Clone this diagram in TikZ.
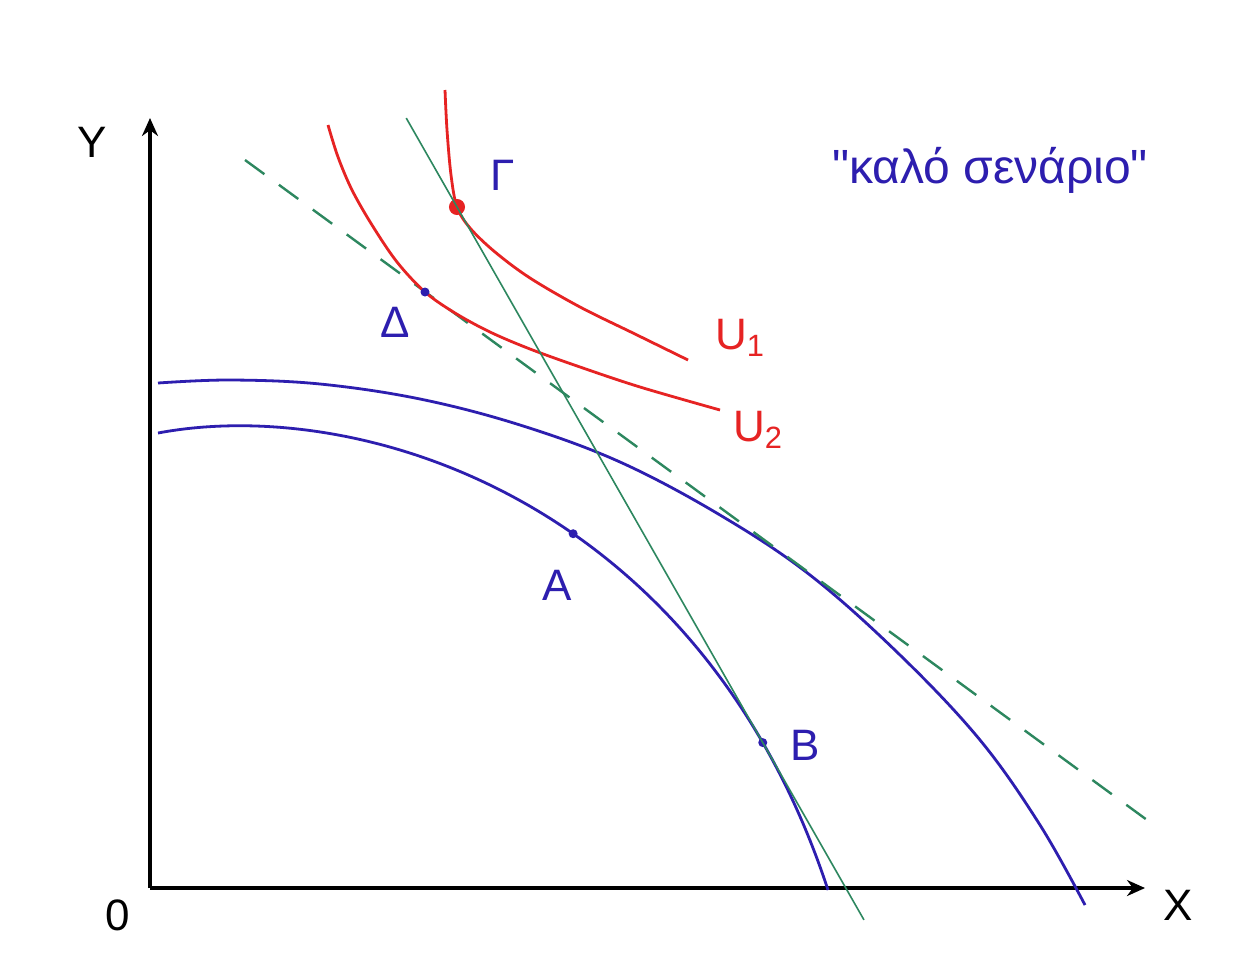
\documentclass[tikz,border=0pt]{standalone}
\usepackage{fontspec}
\setmainfont{Liberation Sans}[Ligatures=TeXOff]
\usetikzlibrary{arrows.meta,calc}
\definecolor{pblue}{RGB}{45,30,175}
\definecolor{pred}{RGB}{230,35,35}
\definecolor{pgreen}{RGB}{45,135,95}
\tikzset{
  axis/.style={line width=1.6pt,black,-{Stealth[length=9pt,width=8pt]}},
  ppf/.style={line width=1.4pt,pblue},
  indiff/.style={line width=1.4pt,pred},
  budget/.style={line width=0.8pt,pgreen},
  tangent/.style={line width=1.2pt,pgreen,dash pattern=on 12pt off 9pt},
  lbl/.style={font=\fontsize{22}{26}\selectfont},
  dotb/.style={circle,fill=pblue,inner sep=0pt,minimum size=4.5pt},
}
\begin{document}
\begin{tikzpicture}[x=0.5pt,y=-0.5pt]
\useasboundingbox (0,0) rectangle (1234,964);
\fill[white] (0,0) rectangle (1234,964);
% axes
\coordinate (O) at (150,888);
\coordinate (ytop) at (150,118);
\coordinate (xend) at (1145,888);
\draw[axis] (O) -- (ytop);
\draw[axis] (O) -- (xend);
\node[lbl] (ylab) at (92,142) {Y};
\node[lbl] (xlab) at (1178,905) {X};
\node[lbl] (olab) at (118,915) {0};
% outer PPF
\draw[ppf] plot[smooth,tension=0.6] coordinates {(158,383) (230,380) (320,384) (420,399) (520,425) (620,462) (720,515) (810,575) (900,655) (980,740) (1040,825) (1085,905)};
% inner PPF
\coordinate (p0) at (158,433);
\coordinate (p3) at (828,890);
\draw[ppf] (p0) .. controls (360,395) and (700,500) .. (p3)
  node[dotb,pos=0.57] (A) {}
  node[dotb,pos=0.86] (B) {};
% tangent dashed line
\coordinate (d1) at (245,160);
\coordinate (d2) at (1158,828);
\draw[tangent] (d1) -- (d2);
% indifference curves
\draw[indiff] plot[smooth,tension=0.55] coordinates {(445,90) (447,130) (451,175) (457,207) (470,228) (495,252) (530,278) (580,307) (635,334) (688,360)};
\draw[indiff] plot[smooth,tension=0.55] coordinates {(328,125) (338,157) (352,190) (372,225) (397,262) (425,292) (455,313) (490,332) (530,349) (580,367) (640,387) (720,410)};
% points
\node[dotb] (D) at (425,292) {};
\node[circle,draw=pred,fill=pred,line width=1pt,inner sep=0pt,minimum size=7pt] (G) at (457,207) {};
% trade line through G and B
\draw[budget] ($(G.center)!-0.166!(B.center)$) coordinate (g1) -- ($(G.center)!1.331!(B.center)$) coordinate (g2);
% labels
\node[lbl,pblue] (Alab) at (557,585) {A};
\node[lbl,pblue] (Blab) at (805,745) {B};
\node[lbl,pblue] (Dlab) at (395,322) {Δ};
\node[lbl,pblue] (Glab) at (503,175) {Γ};
\node[lbl,pred] (u1) at (740,338) {U\textsubscript{1}};
\node[lbl,pred] (u2) at (758,430) {U\textsubscript{2}};
\node[font=\fontsize{24}{28}\selectfont,pblue] (title) at (990,170) {"καλό σενάριο"};
\end{tikzpicture}
\end{document}
